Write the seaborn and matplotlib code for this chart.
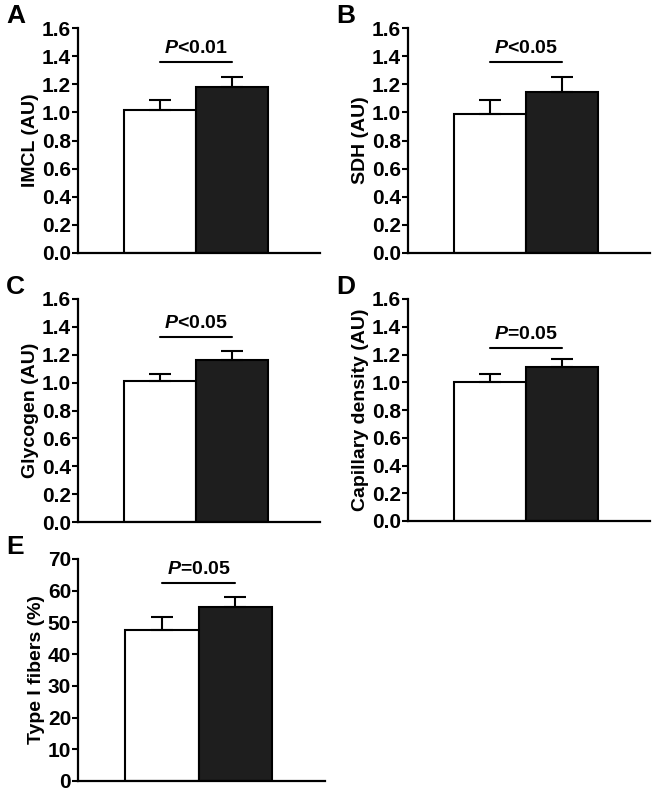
import numpy as np
import pandas as pd
import seaborn as sns
import matplotlib
matplotlib.use("Agg")
import matplotlib.pyplot as plt

# data (mean, upward error)
groups = ["Control", "Trained"]
imcl = [1.02, 1.18]
imcl_err = [0.07, 0.07]
sdh = [0.99, 1.145]
sdh_err = [0.10, 0.105]
glycogen = [1.01, 1.165]
glycogen_err = [0.05, 0.06]
capillary = [1.00, 1.11]
capillary_err = [0.06, 0.06]
type1 = [47.5, 55.0]
type1_err = [4.3, 3.0]

ylabels = ["IMCL (AU)", "SDH (AU)", "Glycogen (AU)", "Capillary density (AU)", "Type I fibers (%)"]
panel_letters = ["A", "B", "C", "D", "E"]
p_texts = [r"$\mathbfit{P}$<0.01", r"$\mathbfit{P}$<0.05", r"$\mathbfit{P}$<0.05",
           r"$\mathbfit{P}$=0.05", r"$\mathbfit{P}$=0.05"]
p_line_y = [1.36, 1.36, 1.33, 1.25, 62.5]
ymax = [1.6, 1.6, 1.6, 1.6, 70]
ystep = [0.2, 0.2, 0.2, 0.2, 10]

sns.set_style("ticks", {"axes.edgecolor": "black", "text.color": "black",
                        "xtick.color": "black", "ytick.color": "black",
                        "axes.labelcolor": "black"})
plt.rcParams["font.family"] = ["Liberation Sans", "DejaVu Sans"]
plt.rcParams["font.weight"] = "bold"
plt.rcParams["mathtext.fontset"] = "custom"
plt.rcParams["mathtext.bfit"] = "Liberation Sans:bold:italic"
plt.rcParams["mathtext.it"] = "Liberation Sans:italic"
plt.rcParams["mathtext.rm"] = "Liberation Sans:bold"

W, H = 662, 795
fig = plt.figure(figsize=(W / 100, H / 100), dpi=100)

# axes boxes in pixels: left, right, top, bottom
boxes = [
    (78, 320, 28, 253),
    (408, 650, 28, 253),
    (78, 320, 299, 522),
    (408, 650, 299, 521),
    (78, 325, 559, 781),
]

series = [(imcl, imcl_err), (sdh, sdh_err), (glycogen, glycogen_err),
          (capillary, capillary_err), (type1, type1_err)]

for i, (vals, errs) in enumerate(series):
    l, r, t, b = boxes[i]
    ax = fig.add_axes([l / W, (H - b) / H, (r - l) / W, (b - t) / H])
    df = pd.DataFrame({"group": groups, "value": vals})
    sns.barplot(data=df, x="group", y="value", hue="group",
                palette=["white", "#1e1e1e"], edgecolor="black",
                linewidth=1.5, width=1.0, errorbar=None, legend=False, ax=ax)
    ax.errorbar(x=[0, 1], y=vals, yerr=[np.zeros(2), errs], fmt="none",
                ecolor="black", elinewidth=1.5, capsize=8, capthick=1.5, zorder=1)
    ax.set_xlim(-1.14, 2.22)
    ax.set_ylim(0, ymax[i])
    ax.set_yticks(np.arange(0, ymax[i] + ystep[i] / 2, ystep[i]))
    if ymax[i] > 10:
        ax.set_yticklabels([f"{v:.0f}" for v in ax.get_yticks()])
    else:
        ax.set_yticklabels([f"{v:.1f}" for v in ax.get_yticks()])
    ax.set_xticks([])
    ax.set_xlabel("")
    ax.set_ylabel(ylabels[i], fontsize=14, fontweight="bold", labelpad=2)
    ax.tick_params(axis="y", labelsize=15, length=4, width=1.5, pad=1)
    for lab in ax.get_yticklabels():
        lab.set_fontweight("bold")
    sns.despine(ax=ax)
    ax.spines["left"].set_linewidth(1.6)
    ax.spines["bottom"].set_linewidth(1.6)
    # significance bar
    ax.plot([0, 1], [p_line_y[i], p_line_y[i]], color="black", lw=1.5, clip_on=False)
    ax.text(0.5, p_line_y[i] + ymax[i] * 0.02, p_texts[i], ha="center", va="bottom",
            fontsize=14, fontweight="bold")
    fig.text((l - 72) / W, 1 - (t - 24) / H, panel_letters[i], fontsize=19,
             fontweight="bold", ha="left", va="top")

fig.savefig("out.png", dpi=100)
